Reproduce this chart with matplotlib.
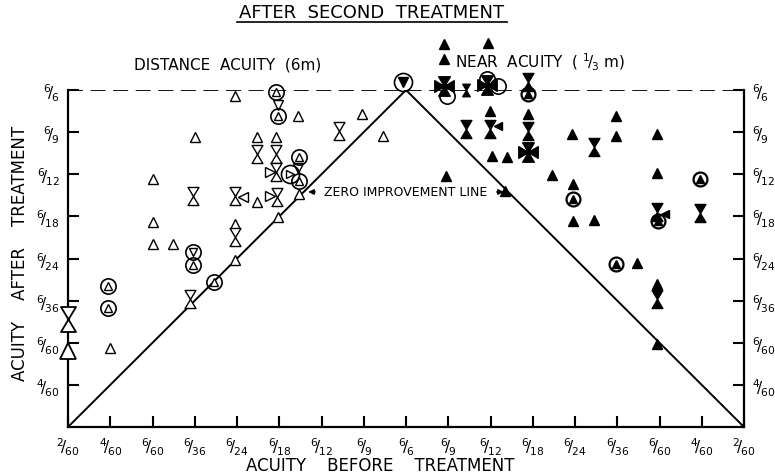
import matplotlib
matplotlib.use("Agg")
import matplotlib.pyplot as plt
from matplotlib.path import Path

# tick labels (index positions 0..16 on x, 1..8 on y)
x_labels = ["2/60", "4/60", "6/60", "6/36", "6/24", "6/18", "6/12", "6/9", "6/6",
            "6/9", "6/12", "6/18", "6/24", "6/36", "6/60", "4/60", "2/60"]
y_labels = ["4/60", "6/60", "6/36", "6/24", "6/18", "6/12", "6/9", "6/6"]

# distance acuity (open symbols), (before, after) in scale steps
dist_up = [(3.95, 7.86), (5.44, 7.39), (3.01, 6.89), (4.47, 6.89), (4.92, 6.89),
           (5.47, 5.53), (2.01, 5.89), (4.47, 5.34), (4.97, 4.99), (2.01, 4.87),
           (3.95, 4.82), (2.01, 4.35), (2.48, 4.35), (3.95, 3.97), (0.99, 1.88),
           (6.96, 7.43), (7.46, 6.91)]
dist_hour = [(4.47, 6.48), (4.92, 6.48), (4.92, 6.06), (2.96, 5.49), (3.95, 5.49),
             (4.95, 5.46), (3.95, 4.51), (2.89, 3.04), (6.41, 7.03)]
dist_down = [(4.97, 7.64), (5.44, 6.15)]
dist_circ_up = [(4.92, 7.96), (4.97, 7.39), (5.47, 6.41), (5.47, 5.84), (2.96, 3.85),
                (3.46, 3.44), (0.95, 3.35), (0.95, 2.83)]
dist_circ_down = [(2.96, 4.16)]
dist_circ_right = [(5.25, 6.01)]
dist_right = [(4.78, 6.06), (4.78, 5.49)]
dist_left = [(4.14, 5.46)]
dist_big_hour = [(0.0, 2.56)]
dist_big_up = [(0.0, 1.80)]

# near acuity (filled symbols)
near_up = [(8.90, 9.10), (8.90, 8.74), (9.94, 9.12), (9.99, 7.51), (10.89, 7.43),
           (10.04, 6.44), (10.39, 6.41), (11.93, 6.96), (11.46, 5.99), (8.95, 5.96),
           (10.34, 5.61), (11.95, 5.77), (11.95, 4.89), (12.45, 4.92), (12.97, 7.39),
           (12.97, 6.91), (13.94, 6.96), (13.94, 6.03), (13.47, 3.90), (13.94, 3.40),
           (13.94, 1.97)]
near_hour = [(10.89, 8.19), (9.99, 7.08), (9.42, 7.08), (10.89, 7.03), (12.45, 6.65),
             (13.94, 5.11), (14.96, 5.08), (13.94, 3.04)]
near_small_hour = [(9.42, 8.00)]
near_cross = [(8.90, 8.10), (9.92, 8.12), (10.89, 6.53)]
near_left = [(10.18, 7.15), (14.13, 5.06)]
near_circ_up = [(10.89, 7.91), (11.95, 5.42), (14.96, 5.89), (12.97, 3.87), (13.96, 4.89)]
near_circles = [(8.97, 7.86), (9.92, 8.27), (10.18, 8.10)]
near_circ_down = [(7.93, 8.19)]


def frac(s):
    a, b = s.split("/")
    return r"$\mathregular{^{%s}\!/_{\!%s}}$" % (a, b)


# custom symbols: hourglass and four-triangle cross
w = 0.6
hourglass = Path([(-w, 1), (w, 1), (0, 0), (-w, 1), (0, 0), (-w, -1), (w, -1), (0, 0)],
                 [1, 2, 2, 79, 1, 2, 2, 79])
cross = Path([(-w, 1), (w, 1), (0, 0), (-w, 1),
              (0, 0), (-w, -1), (w, -1), (0, 0),
              (-1, -w), (-1, w), (0, 0), (-1, -w),
              (0, 0), (1, -w), (1, w), (0, 0)],
             [1, 2, 2, 79] * 4)


def draw(pts, marker, ms, filled, mew=1.0, z=3):
    xs = [p[0] for p in pts]
    ys = [p[1] for p in pts]
    ax.plot(xs, ys, ls="none", marker=marker, ms=ms,
            mfc="black" if filled else "white", mec="black", mew=mew,
            clip_on=False, zorder=z)


def circles(pts, ms=11, mew=1.2):
    xs = [p[0] for p in pts]
    ys = [p[1] for p in pts]
    ax.plot(xs, ys, ls="none", marker="o", ms=ms, mfc="none", mec="black",
            mew=mew, clip_on=False, zorder=4)


fig = plt.figure(figsize=(7.75, 4.77), dpi=100)
ax = fig.add_axes([68 / 775, 49 / 477, 676 / 775, 337 / 477])
ax.set_xlim(0, 16)
ax.set_ylim(0, 8)

# zero improvement line and 6/6 dashed line
ax.plot([0, 8, 16], [0, 8, 0], color="black", lw=1.4, zorder=2)
ax.plot([0, 16], [8, 8], color="black", lw=1.3, ls=(0, (8.3, 4.2)), zorder=2)

# distance acuity
draw(dist_up, "^", 7, False)
draw(dist_hour, hourglass, 13, False)
draw(dist_down, "v", 7, False)
draw(dist_right, ">", 7, False)
draw(dist_left, "<", 7, False)
draw(dist_big_hour, hourglass, 18, False, mew=1.3)
draw(dist_big_up, "^", 11, False, mew=1.3)
draw(dist_circ_up, "^", 6, False)
circles(dist_circ_up)
draw(dist_circ_down, "v", 6, False)
circles(dist_circ_down)
draw(dist_circ_right, ">", 6, False)
circles(dist_circ_right, ms=13)

# near acuity
draw(near_up, "^", 7, True)
draw(near_hour, hourglass, 13, True)
draw(near_small_hour, hourglass, 9, True)
draw(near_cross, cross, 14, True)
draw(near_left, "<", 6, True)
draw(near_circ_up, "^", 6, True)
circles(near_circ_up, ms=10, mew=1.6)
circles(near_circles, ms=11)
draw(near_circ_down, "v", 7, True)
circles(near_circ_down, ms=13)

# axes
ax.spines["top"].set_visible(False)
for s in ["left", "right", "bottom"]:
    ax.spines[s].set_linewidth(1.6)
ax.spines["left"].set_bounds(0, 8)
ax.spines["right"].set_bounds(0, 8)

ax.set_xticks(range(17))
ax.set_xticklabels([frac(s) for s in x_labels], fontsize=11)
ax.set_yticks(range(1, 9))
ax.set_yticklabels([frac(s) for s in y_labels], fontsize=11)
ax.yaxis.set_ticks_position("both")
ax.tick_params(axis="x", direction="in", length=8, width=1.5, pad=6)
ax.tick_params(axis="y", direction="in", length=8, width=1.5, pad=6,
               labelright=True)

# texts
fig.text(372 / 775, 1 - 13 / 477, "AFTER  SECOND  TREATMENT", ha="center",
         va="center", fontsize=13)
fig.add_artist(plt.Line2D([237 / 775, 507 / 775], [1 - 23 / 477, 1 - 23 / 477],
                          color="black", lw=1.2))
fig.text(228 / 775, 1 - 65 / 477, "DISTANCE  ACUITY  (6m)", ha="center",
         va="center", fontsize=11)
fig.text(455 / 775, 1 - 62 / 477,
         r"NEAR  ACUITY  ( $\mathregular{^{1}\!/_{\!3}}$ m)", ha="left",
         va="center", fontsize=11)
fig.text(380 / 775, 1 - 466 / 477, "ACUITY    BEFORE    TREATMENT", ha="center",
         va="center", fontsize=12)
fig.text(20 / 775, 1 - 253 / 477, "ACUITY    AFTER    TREATMENT", ha="center",
         va="center", rotation=90, fontsize=12)

ax.text(8.0, 5.58, "ZERO IMPROVEMENT LINE", ha="center", va="center",
        fontsize=9, zorder=5)
ax.annotate("", xy=(5.62, 5.58), xytext=(5.92, 5.58),
            arrowprops=dict(arrowstyle="-|>", color="black", lw=1, mutation_scale=8))
ax.annotate("", xy=(10.38, 5.58), xytext=(10.08, 5.58),
            arrowprops=dict(arrowstyle="-|>", color="black", lw=1, mutation_scale=8))

fig.savefig("out.png", dpi=100)
